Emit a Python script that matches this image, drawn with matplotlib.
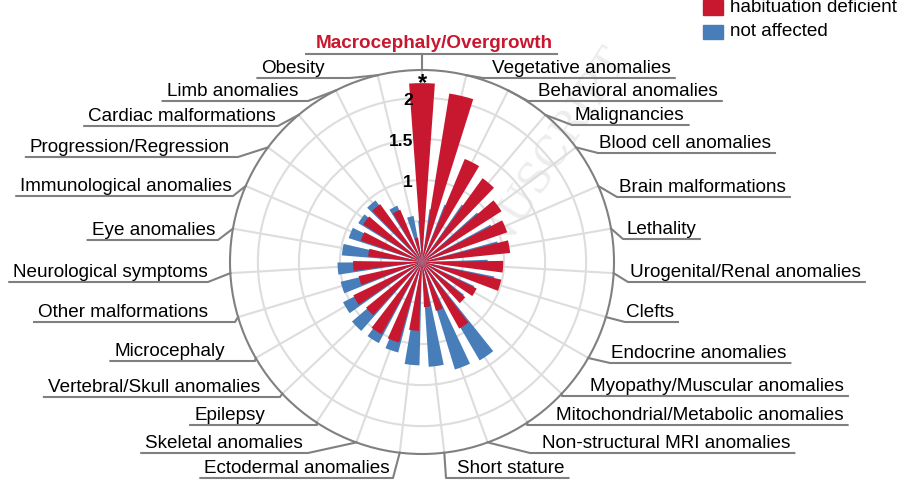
import numpy as np
import matplotlib.pyplot as plt
from matplotlib.patches import Rectangle

# categories clockwise from the top
categories = ["Macrocephaly/Overgrowth", "Vegetative anomalies", "Behavioral anomalies",
              "Malignancies", "Blood cell anomalies", "Brain malformations", "Lethality",
              "Urogenital/Renal anomalies", "Clefts", "Endocrine anomalies",
              "Myopathy/Muscular anomalies", "Mitochondrial/Metabolic anomalies",
              "Non-structural MRI anomalies", "Short stature", "Ectodermal anomalies",
              "Skeletal anomalies", "Epilepsy", "Vertebral/Skull anomalies", "Microcephaly",
              "Other malformations", "Neurological symptoms", "Eye anomalies",
              "Immunological anomalies", "Progression/Regression", "Cardiac malformations",
              "Limb anomalies", "Obesity"]
habituation_deficient = [2.18, 2.08, 1.36, 1.26, 1.15, 1.10, 1.08, 0.99, 0.99, 0.74, 0.68,
                         0.93, 0.62, 0.55, 0.84, 1.02, 1.01, 0.88, 0.93, 0.79, 0.84, 0.66,
                         0.79, 0.85, 0.87, 0.69, 0.30]
not_affected = [0.50, 0.65, 0.75, 0.85, 0.90, 0.95, 0.95, 0.80, 0.90, 0.70, 0.65, 1.39,
                1.37, 1.28, 1.26, 1.14, 1.12, 1.12, 1.08, 1.02, 1.03, 0.98, 0.94, 0.91,
                0.94, 0.75, 0.57]
tick_values = [1, 1.5, 2]
tick_labels = ["1", "1.5", "2"]
significant = "Macrocephaly/Overgrowth"

red = "#c8182f"
blue = "#477db9"
gray = "#808080"
plt.rcParams['font.family'] = ['Liberation Sans', 'DejaVu Sans']
fs = 13.6

# label placement in pixels: text x, underline y, elbow x, side
label_pos = {
    "Vegetative anomalies": (492, 78, 483, "r"),
    "Behavioral anomalies": (538, 101, 528, "r"),
    "Malignancies": (575, 125, 572, "r"),
    "Blood cell anomalies": (599, 153, 598, "r"),
    "Brain malformations": (619, 197, 617, "r"),
    "Lethality": (626, 239, 623, "r"),
    "Urogenital/Renal anomalies": (630, 282, 628, "r"),
    "Clefts": (626, 322, 625, "r"),
    "Endocrine anomalies": (611, 363, 610, "r"),
    "Myopathy/Muscular anomalies": (590, 396, 562, "r"),
    "Mitochondrial/Metabolic anomalies": (556, 425, 527, "r"),
    "Non-structural MRI anomalies": (542, 453, 530, "r"),
    "Short stature": (457, 478, 446, "r"),
    "Ectodermal anomalies": (390, 478, 393, "l"),
    "Skeletal anomalies": (303, 453, 308, "l"),
    "Epilepsy": (265, 425, 317, "l"),
    "Vertebral/Skull anomalies": (260, 397, 280, "l"),
    "Microcephaly": (225, 361, 255, "l"),
    "Other malformations": (208, 322, 235, "l"),
    "Neurological symptoms": (208, 282, 208, "l"),
    "Eye anomalies": (215, 240, 218, "l"),
    "Immunological anomalies": (232, 196, 233, "l"),
    "Progression/Regression": (230, 157, 238, "l"),
    "Cardiac malformations": (276, 126, 278, "l"),
    "Limb anomalies": (298, 101, 308, "l"),
    "Obesity": (325, 78, 350, "l"),
}

n = len(categories)
theta = np.arange(n) * 2 * np.pi / n
width = 2 * np.pi / n * 0.62
rmax = 2.34

fig = plt.figure(figsize=(9, 4.8), dpi=100)
# faint watermark behind everything
fig.text(555 / 900, 1 - 150 / 480, "NUSCRIPT", rotation=57, fontsize=30, family='DejaVu Serif',
         color='#ededed', ha='center', va='center', zorder=-5)

ax = fig.add_axes([230 / 900, 26 / 480, 384 / 900, 384 / 480], projection='polar')
ax.patch.set_alpha(0)
ax.set_theta_zero_location('N')
ax.set_theta_direction(-1)
ax.bar(theta - 0.02, not_affected, width=width, color=blue, zorder=2)
ax.bar(theta, habituation_deficient, width=width, color=red, zorder=3)
ax.set_ylim(0, rmax)
ax.set_yticks([0.5, 1, 1.5, 2])
ax.set_yticklabels([])
ax.set_xticks(theta)
ax.set_xticklabels([])
ax.grid(color="#dddddd", lw=1.5)
ax.set_axisbelow(True)
ax.spines['polar'].set_color(gray)
ax.spines['polar'].set_linewidth(1.5)

for v, t in zip(tick_values, tick_labels):
    ax.annotate(t, xy=(0, v), xytext=(-9, -3), textcoords='offset pixels', ha='right',
                va='center', fontsize=12.5, fontweight='bold', zorder=5)
ax.annotate("*", xy=(0, habituation_deficient[0]), xytext=(0, 0), textcoords='offset pixels',
            ha='center', va='center', fontsize=17, fontweight='bold', zorder=5)

# overlay in pixel coordinates for labels and leader lines
ov = fig.add_axes([0, 0, 1, 1])
ov.set_xlim(0, 900)
ov.set_ylim(480, 0)
ov.axis('off')

renderer = fig.canvas.get_renderer()
inv = ov.transData.inverted()


def attach(th):
    return inv.transform(ax.transData.transform((th, rmax)))


def extent(t):
    bb = t.get_window_extent(renderer)
    (x0, _), (x1, _) = inv.transform([[bb.x0, bb.y0], [bb.x1, bb.y1]])
    return x0, x1


for i, name in enumerate(categories):
    px, py = attach(theta[i])
    if name == significant:
        t = ov.text(434, 48, name, color=red, fontsize=fs, fontweight='bold',
                    ha='center', va='baseline')
        x0, x1 = extent(t)
        ov.plot([px, px], [py, 54], color=gray, lw=1.5)
        ov.plot([x0 - 10, x1 + 4], [54, 54], color=gray, lw=1.5)
        continue
    tx, ly, ex, side = label_pos[name]
    t = ov.text(tx, ly - 5, name, fontsize=fs, ha='left' if side == "r" else 'right',
                va='baseline', color='black')
    x0, x1 = extent(t)
    if side == "r":
        ov.plot([px, ex, x1 + 4], [py, ly, ly], color=gray, lw=1.5)
    else:
        ov.plot([px, ex, x0 - 4], [py, ly, ly], color=gray, lw=1.5)

# legend
ov.add_patch(Rectangle((703, 0), 20, 15, color=red))
ov.add_patch(Rectangle((703, 25), 20, 14, color=blue))
ov.text(730, 8, "habituation deficient", fontsize=fs, va='center', ha='left')
ov.text(730, 32, "not affected", fontsize=fs, va='center', ha='left')

fig.savefig("out.png", dpi=100)
